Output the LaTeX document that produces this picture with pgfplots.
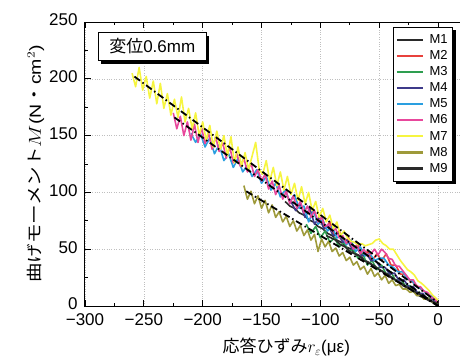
\documentclass[border=0pt]{standalone}
\usepackage{pgfplots}
\pgfplotsset{compat=1.18}
\usepackage{fontspec}
\setmainfont{Liberation Sans}
\newfontfamily\jp{Noto Sans CJK JP}
\usetikzlibrary{shadows}
\definecolor{cM1}{HTML}{2A2A2A}
\definecolor{cM2}{HTML}{E8413C}
\definecolor{cM3}{HTML}{2E9E50}
\definecolor{cM4}{HTML}{3E3A8A}
\definecolor{cM5}{HTML}{2A9FE0}
\definecolor{cM6}{HTML}{E8489C}
\definecolor{cM7}{HTML}{F6F540}
\definecolor{cM8}{HTML}{9E9A3A}
\definecolor{cM9}{HTML}{2A2A2A}
\begin{document}
\begin{tikzpicture}
\useasboundingbox (-85pt,-53pt) rectangle (375pt,306pt);
\begin{axis}[
  scale only axis,
  width=382.5pt, height=284pt,
  xmin=-300, xmax=25, ymin=0, ymax=250,
  xtick={-300,-250,-200,-150,-100,-50,0},
  xticklabels={−300,−250,−200,−150,−100,−50,0},
  ytick={0,50,100,150,200,250},
  minor x tick num=1, minor y tick num=1,
  tick align=inside,
  major tick length=6pt, minor tick length=3pt,
  tick style={black, line width=0.8pt},
  axis line style={black, line width=1pt},
  grid=major,
  major grid style={gray!50, dotted, line width=0.6pt},
  /pgf/number format/assume math mode=true,
  /pgf/number format/set thousands separator={},
  ticklabel style={font=\fontsize{17}{18}\selectfont},
  xticklabel style={yshift=-4pt},
  yticklabel style={xshift=-4pt, yshift=2pt},
  xlabel={{\jp 応答ひずみ}$r_{\varepsilon}$(με)},
  xlabel style={font=\fontsize{17}{18}\selectfont, yshift=-6pt, xshift=10pt},
  ylabel={\scalebox{1.22}[1]{{\jp 曲げモーメント}$M$(N{\jp ・}cm$^2$)}},
  ylabel style={font=\fontsize{16}{18}\selectfont, yshift=-2pt},
  legend style={at={(rel axis cs:0.962,0.982)}, anchor=north east,
    name=leg,
    draw=black, fill=white, line width=0.6pt,
    font=\fontsize{13}{14}\selectfont,
    row sep=1.6pt, inner xsep=3pt, inner ysep=5pt},
  legend cell align=left,
  legend image code/.code={\draw[#1, line width=2.2pt] (0cm,0cm) -- (0.9cm,0cm);},
  every axis plot/.append style={line width=1.6pt, line join=round},
]
\addplot[cM1] coordinates {(-130,92) (-126,88) (-122,86) (-118,82) (-114,80) (-110,76) (-106,74) (-102,70) (-98,68) (-94,64) (-90,62) (-86,58) (-82,56) (-78,52) (-74,50) (-70,46) (-66,44) (-62,40) (-58,38) (-54,34) (-50,32) (-46,30) (-42,26) (-38,24) (-34,22) (-30,18) (-26,16) (-22,14) (-18,10) (-14,8) (-10,6) (-6,4) (-2,2) (0,1)};
\addplot[cM2] coordinates {(-100,76) (-96,68) (-92,74) (-88,62) (-84,66) (-80,56) (-76,60) (-72,50) (-68,54) (-64,44) (-60,48) (-56,40) (-52,46) (-48,40) (-44,46) (-40,36) (-36,36) (-32,28) (-28,28) (-24,22) (-20,20) (-16,16) (-12,13) (-8,10) (-4,6) (0,3)};
\addplot[cM3] coordinates {(-112,72) (-108,64) (-104,70) (-100,60) (-96,66) (-92,56) (-88,60) (-84,52) (-80,56) (-76,48) (-72,50) (-68,42) (-64,46) (-60,36) (-56,40) (-52,32) (-48,36) (-44,28) (-40,30) (-36,22) (-32,24) (-28,18) (-24,18) (-20,12) (-16,12) (-12,7) (-8,7) (-4,3) (0,2)};
\addplot[cM4] coordinates {(-125,92) (-121,84) (-117,90) (-113,78) (-109,86) (-105,72) (-101,78) (-97,68) (-93,70) (-89,62) (-85,64) (-81,56) (-77,58) (-73,50) (-69,52) (-65,44) (-61,46) (-57,40) (-53,40) (-49,34) (-45,34) (-41,28) (-37,29) (-33,22) (-29,23) (-25,17) (-21,17) (-17,11) (-13,11) (-9,6) (-5,6) (0,2)};
\addplot[cM5] coordinates {(-210,152) (-206,144) (-202,152) (-198,140) (-194,148) (-190,134) (-186,142) (-182,128) (-178,134) (-174,122) (-170,130) (-166,118) (-162,124) (-158,114) (-154,120) (-150,108) (-146,114) (-142,102) (-138,108) (-134,96) (-130,102) (-126,92) (-122,98) (-118,86) (-114,88) (-110,74) (-106,84) (-102,72) (-98,76) (-94,66) (-90,70) (-86,60) (-82,62) (-78,54) (-74,58) (-70,48) (-66,52) (-62,44) (-58,46) (-54,40) (-50,42) (-46,42) (-42,36) (-38,34) (-34,30) (-30,30) (-26,24) (-22,22) (-18,17) (-14,15) (-10,11) (-6,9) (-3,6) (0,4)};
\addplot[cM6] coordinates {(-225,170) (-222,156) (-219,167) (-216,150) (-213,162) (-210,146) (-207,160) (-204,144) (-201,157) (-198,143) (-195,152) (-192,138) (-189,149) (-186,136) (-183,144) (-180,130) (-177,140) (-174,126) (-171,134) (-168,123) (-165,130) (-162,118) (-159,126) (-156,114) (-153,120) (-150,110) (-147,116) (-144,103) (-141,110) (-138,98) (-135,106) (-132,94) (-129,101) (-126,90) (-123,97) (-120,86) (-117,92) (-114,82) (-111,88) (-108,78) (-105,84) (-102,74) (-99,78) (-96,70) (-93,72) (-90,66) (-87,68) (-84,60) (-81,62) (-78,55) (-75,58) (-72,50) (-69,54) (-66,46) (-63,50) (-60,44) (-57,46) (-54,50) (-51,45) (-48,50) (-45,47) (-42,42) (-39,41) (-36,35) (-33,35) (-30,31) (-27,27) (-24,23) (-21,23) (-18,17) (-15,17) (-12,13) (-9,12) (-6,8) (-3,6) (0,3)};
\addplot[cM7] coordinates {(-260,205) (-257,193) (-254,210) (-251,190) (-248,202) (-245,183) (-242,198) (-239,178) (-236,196) (-233,174) (-230,187) (-227,168) (-224,182) (-221,166) (-218,184) (-215,162) (-212,174) (-209,156) (-206,170) (-203,150) (-200,162) (-197,146) (-194,159) (-191,140) (-188,154) (-185,138) (-182,150) (-179,132) (-176,149) (-173,126) (-170,140) (-167,123) (-164,135) (-161,120) (-158,132) (-155,144) (-152,120) (-149,116) (-146,128) (-143,110) (-140,122) (-137,106) (-134,118) (-131,102) (-128,114) (-125,98) (-122,108) (-119,93) (-116,105) (-113,90) (-110,100) (-107,84) (-104,92) (-101,78) (-98,86) (-95,74) (-92,80) (-89,68) (-86,74) (-83,62) (-80,66) (-77,60) (-74,57) (-71,56) (-68,54) (-65,55) (-62,53) (-59,54) (-56,55) (-53,58) (-50,59) (-47,55) (-44,53) (-41,50) (-38,50) (-35,45) (-32,40) (-29,36) (-26,32) (-23,30) (-20,27) (-17,22) (-14,20) (-11,17) (-8,14) (-5,10) (-2,7) (0,5)};
\addplot[cM8] coordinates {(-165,106) (-162,94) (-159,101) (-156,90) (-153,97) (-150,86) (-147,93) (-144,82) (-141,89) (-138,78) (-135,83) (-132,74) (-129,79) (-126,70) (-123,75) (-120,66) (-117,71) (-114,62) (-111,67) (-108,58) (-105,63) (-102,48) (-99,59) (-96,52) (-93,57) (-90,48) (-87,51) (-84,44) (-81,47) (-78,40) (-75,43) (-72,36) (-69,39) (-66,32) (-63,35) (-60,28) (-57,33) (-54,26) (-51,29) (-48,23) (-45,27) (-42,20) (-39,23) (-36,18) (-33,19) (-30,15) (-27,15) (-24,12) (-21,13) (-18,9) (-15,10) (-12,6) (-9,7) (-6,4) (-3,3) (0,2)};
\addplot[cM9] coordinates {(-95,62) (-91,60) (-87,58) (-83,54) (-79,52) (-75,48) (-71,46) (-67,44) (-63,40) (-59,38) (-55,36) (-51,33) (-47,30) (-43,28) (-39,25) (-35,22) (-31,20) (-27,17) (-23,15) (-19,12) (-15,10) (-11,7) (-7,5) (-3,3) (0,1)};
\addplot[black, line width=1.8pt, dash pattern=on 7pt off 3pt on 1.5pt off 3pt, forget plot] coordinates {(-258,202) (0,3)};
\addplot[black, line width=1.8pt, dash pattern=on 7pt off 3pt on 1.5pt off 3pt, forget plot] coordinates {(-224,166) (0,0)};
\addplot[black, line width=1.8pt, dash pattern=on 7pt off 3pt on 1.5pt off 3pt, forget plot] coordinates {(-163,101) (0,0)};
\legend{\hspace{4pt}M1,\hspace{4pt}M2,\hspace{4pt}M3,\hspace{4pt}M4,\hspace{4pt}M5,\hspace{4pt}M6,\hspace{4pt}M7,\hspace{4pt}M8,\hspace{4pt}M9}
\node[anchor=north west, draw=black, fill=white, line width=0.6pt,
  minimum width=108pt, minimum height=28pt, inner sep=2pt,
  font=\fontsize{17}{18}\selectfont,
  drop shadow={fill=black, opacity=1, shadow xshift=3pt, shadow yshift=-3pt}]
  at (axis cs:-289,241) {{\jp 変位}0.6mm};
\end{axis}
\fill[black] ([xshift=3pt,yshift=-3pt]leg.south west) rectangle ([xshift=3pt]leg.south east);
\fill[black] (leg.south east) rectangle ([xshift=3pt,yshift=-3pt]leg.north east);
\end{tikzpicture}
\end{document}
